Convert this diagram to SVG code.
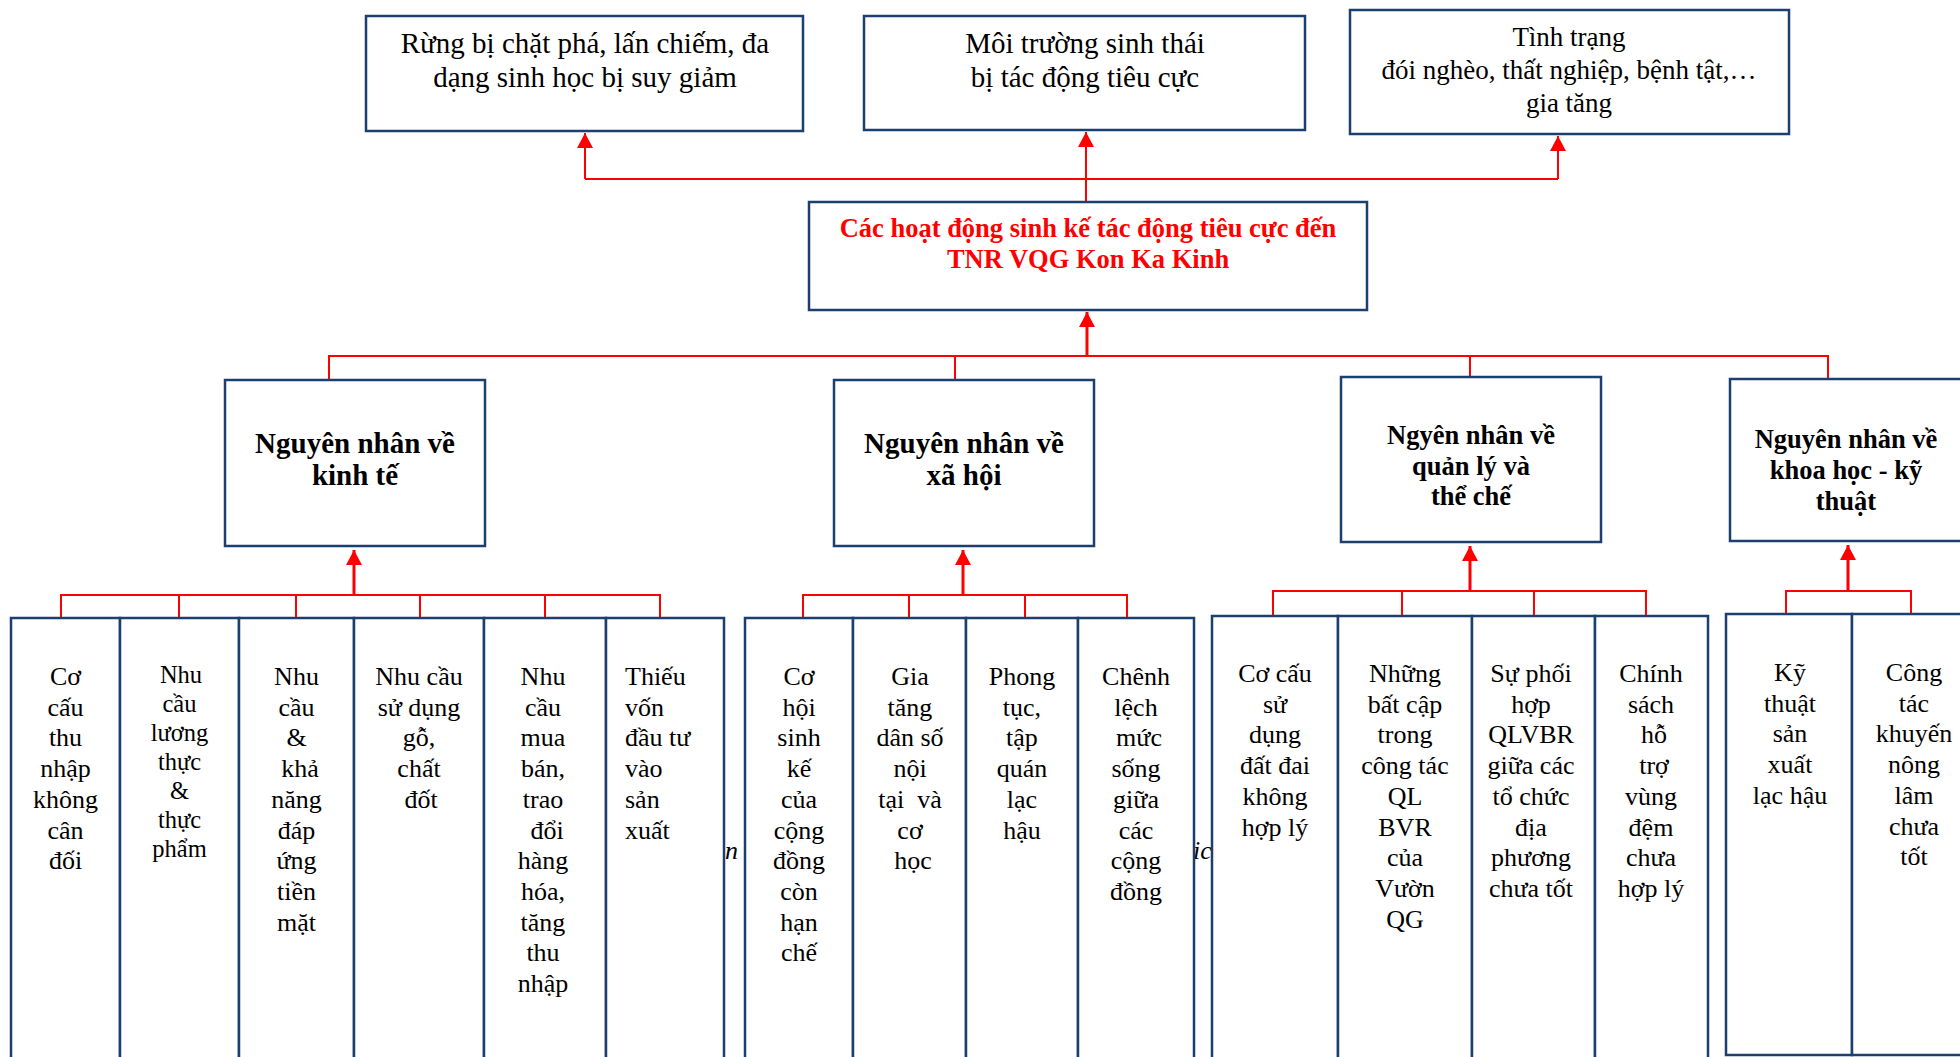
<svg xmlns="http://www.w3.org/2000/svg" width="1960" height="1057" viewBox="0 0 1960 1057">
<style>
.box{fill:#fff;stroke:#1B3F6E;stroke-width:2.5}
.conn{fill:none;stroke:#FF0000;stroke-width:2}
.arr{fill:none;stroke:#FF0000;stroke-width:3}
text{font-family:"Liberation Serif","Times New Roman",serif;fill:#000}
.top{font-size:29px;text-anchor:middle}
.top3{font-size:27px;text-anchor:middle}
.main{font-size:26.5px;font-weight:bold;fill:#FF0000;text-anchor:middle}
.cat{font-size:29px;font-weight:bold;text-anchor:middle}
.cat2{font-size:26.5px;font-weight:bold;text-anchor:middle}
.leaf{font-size:26px;text-anchor:middle}
.leafs{font-size:24.5px;text-anchor:middle}
.leafl{font-size:26px;text-anchor:start}
.frag{font-size:26px;font-style:italic}
</style>
<defs>
<marker id="ah" viewBox="0 0 15 16" refX="15" refY="8" markerWidth="15" markerHeight="16" markerUnits="userSpaceOnUse" orient="auto">
<path d="M0,0 L15,8 L0,16 z" fill="#FF0000"/>
</marker>
</defs>
<rect width="1960" height="1057" fill="#fff"/>

<text class="frag" x="725" y="859">n</text>
<text class="frag" x="1193" y="859">ic</text>

<g id="connectors">
<polyline class="conn" points="585,179 1558,179"/>
<line class="conn" x1="585" y1="179" x2="585" y2="133" marker-end="url(#ah)"/>
<line class="conn" x1="1086" y1="202" x2="1086" y2="132" marker-end="url(#ah)"/>
<line class="conn" x1="1558" y1="179" x2="1558" y2="136" marker-end="url(#ah)"/>

<polyline class="conn" points="329,380 329,356 1828,356 1828,379"/>
<line class="conn" x1="955" y1="356" x2="955" y2="380"/>
<line class="conn" x1="1470" y1="356" x2="1470" y2="377"/>
<line class="arr" x1="1087" y1="356" x2="1087" y2="312" marker-end="url(#ah)"/>

<polyline class="conn" points="61,618 61,595 660,595 660,618"/>
<line class="conn" x1="179" y1="595" x2="179" y2="618"/>
<line class="conn" x1="296" y1="595" x2="296" y2="618"/>
<line class="conn" x1="420" y1="595" x2="420" y2="618"/>
<line class="conn" x1="545" y1="595" x2="545" y2="618"/>
<line class="arr" x1="354" y1="595" x2="354" y2="550" marker-end="url(#ah)"/>

<polyline class="conn" points="803,618 803,595 1127,595 1127,618"/>
<line class="conn" x1="909" y1="595" x2="909" y2="618"/>
<line class="conn" x1="1025" y1="595" x2="1025" y2="618"/>
<line class="arr" x1="963" y1="595" x2="963" y2="550" marker-end="url(#ah)"/>

<polyline class="conn" points="1273,616 1273,591 1646,591 1646,616"/>
<line class="conn" x1="1402" y1="591" x2="1402" y2="616"/>
<line class="conn" x1="1534" y1="591" x2="1534" y2="616"/>
<line class="arr" x1="1470" y1="591" x2="1470" y2="546" marker-end="url(#ah)"/>

<polyline class="conn" points="1786,614 1786,591 1911,591 1911,614"/>
<line class="arr" x1="1848" y1="591" x2="1848" y2="545" marker-end="url(#ah)"/>
</g>

<g id="effect-forest">
<rect class="box" x="366" y="16" width="437" height="115"/>
<text class="top" x="585" y="53">Rừng bị chặt phá, lấn chiếm, đa</text>
<text class="top" x="585" y="87">dạng sinh học bị suy giảm</text>
</g>
<g id="effect-environment">
<rect class="box" x="864" y="16" width="441" height="114"/>
<text class="top" x="1085" y="53">Môi trường sinh thái</text>
<text class="top" x="1085" y="87">bị tác động tiêu cực</text>
</g>
<g id="effect-poverty">
<rect class="box" x="1350" y="10" width="439" height="124"/>
<text class="top3" x="1569" y="46">Tình trạng</text>
<text class="top3" x="1569" y="79">đói nghèo, thất nghiệp, bệnh tật,…</text>
<text class="top3" x="1569" y="112">gia tăng</text>
</g>

<g id="main">
<rect class="box" x="809" y="202" width="558" height="108"/>
<text class="main" x="1088" y="237">Các hoạt động sinh kế tác động tiêu cực đến</text>
<text class="main" x="1088" y="268">TNR VQG Kon Ka Kinh</text>
</g>

<g id="cat-economy">
<rect class="box" x="225" y="380" width="260" height="166"/>
<text class="cat" x="355" y="453">Nguyên nhân về</text>
<text class="cat" x="355" y="485">kinh tế</text>
</g>
<g id="cat-society">
<rect class="box" x="834" y="380" width="260" height="166"/>
<text class="cat" x="964" y="453">Nguyên nhân về</text>
<text class="cat" x="964" y="485">xã hội</text>
</g>
<g id="cat-management">
<rect class="box" x="1341" y="377" width="260" height="165"/>
<text class="cat2" x="1471" y="444">Ngyên nhân về</text>
<text class="cat2" x="1471" y="475">quản lý và</text>
<text class="cat2" x="1471" y="505">thể chế</text>
</g>
<g id="cat-science">
<rect class="box" x="1730" y="379" width="250" height="162"/>
<text class="cat2" x="1846" y="448">Nguyên nhân về</text>
<text class="cat2" x="1846" y="479">khoa học - kỹ</text>
<text class="cat2" x="1846" y="510">thuật</text>
</g>

<g id="leaf-e1">
<rect class="box" x="11" y="618" width="109" height="460"/>
<text class="leaf" x="65.5" y="685"><tspan x="65.5">Cơ</tspan><tspan x="65.5" dy="30.7">cấu</tspan><tspan x="65.5" dy="30.7">thu</tspan><tspan x="65.5" dy="30.7">nhập</tspan><tspan x="65.5" dy="30.7">không</tspan><tspan x="65.5" dy="30.7">cân</tspan><tspan x="65.5" dy="30.7">đối</tspan></text>
</g>
<g id="leaf-e2">
<rect class="box" x="120" y="618" width="119" height="460"/>
<text class="leafs" x="179.5" y="683"><tspan x="181">Nhu</tspan><tspan x="179.5" dy="29">cầu</tspan><tspan x="179.5" dy="29">lương</tspan><tspan x="179.5" dy="29">thực</tspan><tspan x="179.5" dy="29">&amp;</tspan><tspan x="179.5" dy="29">thực</tspan><tspan x="179.5" dy="29">phẩm</tspan></text>
</g>
<g id="leaf-e3">
<rect class="box" x="239" y="618" width="115" height="460"/>
<text class="leaf" x="296.5" y="685"><tspan x="296.5">Nhu</tspan><tspan x="296.5" dy="30.7">cầu</tspan><tspan x="296.5" dy="30.7">&amp;</tspan><tspan x="300" dy="30.7">khả</tspan><tspan x="296.5" dy="30.7">năng</tspan><tspan x="296.5" dy="30.7">đáp</tspan><tspan x="296.5" dy="30.7">ứng</tspan><tspan x="296.5" dy="30.7">tiền</tspan><tspan x="296.5" dy="30.7">mặt</tspan></text>
</g>
<g id="leaf-e4">
<rect class="box" x="354" y="618" width="130" height="460"/>
<text class="leaf" x="419" y="685"><tspan x="419">Nhu cầu</tspan><tspan x="419" dy="30.7">sử dụng</tspan><tspan x="419" dy="30.7">gỗ,</tspan><tspan x="419" dy="30.7">chất</tspan><tspan x="421" dy="30.7">đốt</tspan></text>
</g>
<g id="leaf-e5">
<rect class="box" x="484" y="618" width="122" height="460"/>
<text class="leaf" x="543" y="685"><tspan x="543">Nhu</tspan><tspan x="543" dy="30.7">cầu</tspan><tspan x="543" dy="30.7">mua</tspan><tspan x="543" dy="30.7">bán,</tspan><tspan x="543" dy="30.7">trao</tspan><tspan x="547" dy="30.7">đổi</tspan><tspan x="543" dy="30.7">hàng</tspan><tspan x="543" dy="30.7">hóa,</tspan><tspan x="543" dy="30.7">tăng</tspan><tspan x="543" dy="30.7">thu</tspan><tspan x="543" dy="30.7">nhập</tspan></text>
</g>
<g id="leaf-e6">
<rect class="box" x="606" y="618" width="118" height="460"/>
<text class="leafl" x="625" y="685"><tspan x="625">Thiếu</tspan><tspan x="625" dy="30.7">vốn</tspan><tspan x="625" dy="30.7">đầu tư</tspan><tspan x="625" dy="30.7">vào</tspan><tspan x="625" dy="30.7">sản</tspan><tspan x="625" dy="30.7">xuất</tspan></text>
</g>

<g id="leaf-s1">
<rect class="box" x="745" y="618" width="108" height="460"/>
<text class="leaf" x="799" y="685"><tspan x="799">Cơ</tspan><tspan x="799" dy="30.7">hội</tspan><tspan x="799" dy="30.7">sinh</tspan><tspan x="799" dy="30.7">kế</tspan><tspan x="799" dy="30.7">của</tspan><tspan x="799" dy="30.7">cộng</tspan><tspan x="799" dy="30.7">đồng</tspan><tspan x="799" dy="30.7">còn</tspan><tspan x="799" dy="30.7">hạn</tspan><tspan x="799" dy="30.7">chế</tspan></text>
</g>
<g id="leaf-s2">
<rect class="box" x="853" y="618" width="113" height="460"/>
<text class="leaf" x="910" y="685"><tspan x="910">Gia</tspan><tspan x="910" dy="30.7">tăng</tspan><tspan x="910" dy="30.7">dân số</tspan><tspan x="910" dy="30.7">nội</tspan><tspan x="910" dy="30.7" xml:space="preserve">tại  và</tspan><tspan x="910" dy="30.7">cơ</tspan><tspan x="913" dy="30.7">học</tspan></text>
</g>
<g id="leaf-s3">
<rect class="box" x="966" y="618" width="112" height="460"/>
<text class="leaf" x="1022" y="685"><tspan x="1022">Phong</tspan><tspan x="1022" dy="30.7">tục,</tspan><tspan x="1022" dy="30.7">tập</tspan><tspan x="1022" dy="30.7">quán</tspan><tspan x="1022" dy="30.7">lạc</tspan><tspan x="1022" dy="30.7">hậu</tspan></text>
</g>
<g id="leaf-s4">
<rect class="box" x="1078" y="618" width="116" height="460"/>
<text class="leaf" x="1136" y="685"><tspan x="1136">Chênh</tspan><tspan x="1136" dy="30.7">lệch</tspan><tspan x="1139" dy="30.7">mức</tspan><tspan x="1136" dy="30.7">sống</tspan><tspan x="1136" dy="30.7">giữa</tspan><tspan x="1136" dy="30.7">các</tspan><tspan x="1136" dy="30.7">cộng</tspan><tspan x="1136" dy="30.7">đồng</tspan></text>
</g>

<g id="leaf-m1">
<rect class="box" x="1212" y="616" width="126" height="460"/>
<text class="leaf" x="1275" y="682"><tspan x="1275">Cơ cấu</tspan><tspan x="1275" dy="30.7">sử</tspan><tspan x="1275" dy="30.7">dụng</tspan><tspan x="1275" dy="30.7">đất đai</tspan><tspan x="1275" dy="30.7">không</tspan><tspan x="1275" dy="30.7">hợp lý</tspan></text>
</g>
<g id="leaf-m2">
<rect class="box" x="1338" y="616" width="134" height="460"/>
<text class="leaf" x="1405" y="682"><tspan x="1405">Những</tspan><tspan x="1405" dy="30.7">bất cập</tspan><tspan x="1405" dy="30.7">trong</tspan><tspan x="1405" dy="30.7">công tác</tspan><tspan x="1405" dy="30.7">QL</tspan><tspan x="1405" dy="30.7">BVR</tspan><tspan x="1405" dy="30.7">của</tspan><tspan x="1405" dy="30.7">Vườn</tspan><tspan x="1405" dy="30.7">QG</tspan></text>
</g>
<g id="leaf-m3">
<rect class="box" x="1472" y="616" width="123" height="460"/>
<text class="leaf" x="1531" y="682"><tspan x="1531">Sự phối</tspan><tspan x="1531" dy="30.7">hợp</tspan><tspan x="1531" dy="30.7">QLVBR</tspan><tspan x="1531" dy="30.7">giữa các</tspan><tspan x="1531" dy="30.7">tổ chức</tspan><tspan x="1531" dy="30.7">địa</tspan><tspan x="1531" dy="30.7">phương</tspan><tspan x="1531" dy="30.7">chưa tốt</tspan></text>
</g>
<g id="leaf-m4">
<rect class="box" x="1595" y="616" width="113" height="460"/>
<text class="leaf" x="1651" y="682"><tspan x="1651">Chính</tspan><tspan x="1651" dy="30.7">sách</tspan><tspan x="1654" dy="30.7">hỗ</tspan><tspan x="1654" dy="30.7">trợ</tspan><tspan x="1651" dy="30.7">vùng</tspan><tspan x="1651" dy="30.7">đệm</tspan><tspan x="1651" dy="30.7">chưa</tspan><tspan x="1651" dy="30.7">hợp lý</tspan></text>
</g>

<g id="leaf-t1">
<rect class="box" x="1726" y="614" width="126" height="441"/>
<text class="leaf" x="1790" y="681"><tspan x="1790">Kỹ</tspan><tspan x="1790" dy="30.7">thuật</tspan><tspan x="1790" dy="30.7">sản</tspan><tspan x="1790" dy="30.7">xuất</tspan><tspan x="1790" dy="30.7">lạc hậu</tspan></text>
</g>
<g id="leaf-t2">
<rect class="box" x="1852" y="614" width="130" height="441"/>
<text class="leaf" x="1914" y="681"><tspan x="1914">Công</tspan><tspan x="1914" dy="30.7">tác</tspan><tspan x="1914" dy="30.7">khuyến</tspan><tspan x="1914" dy="30.7">nông</tspan><tspan x="1914" dy="30.7">lâm</tspan><tspan x="1914" dy="30.7">chưa</tspan><tspan x="1914" dy="30.7">tốt</tspan></text>
</g>
</svg>
